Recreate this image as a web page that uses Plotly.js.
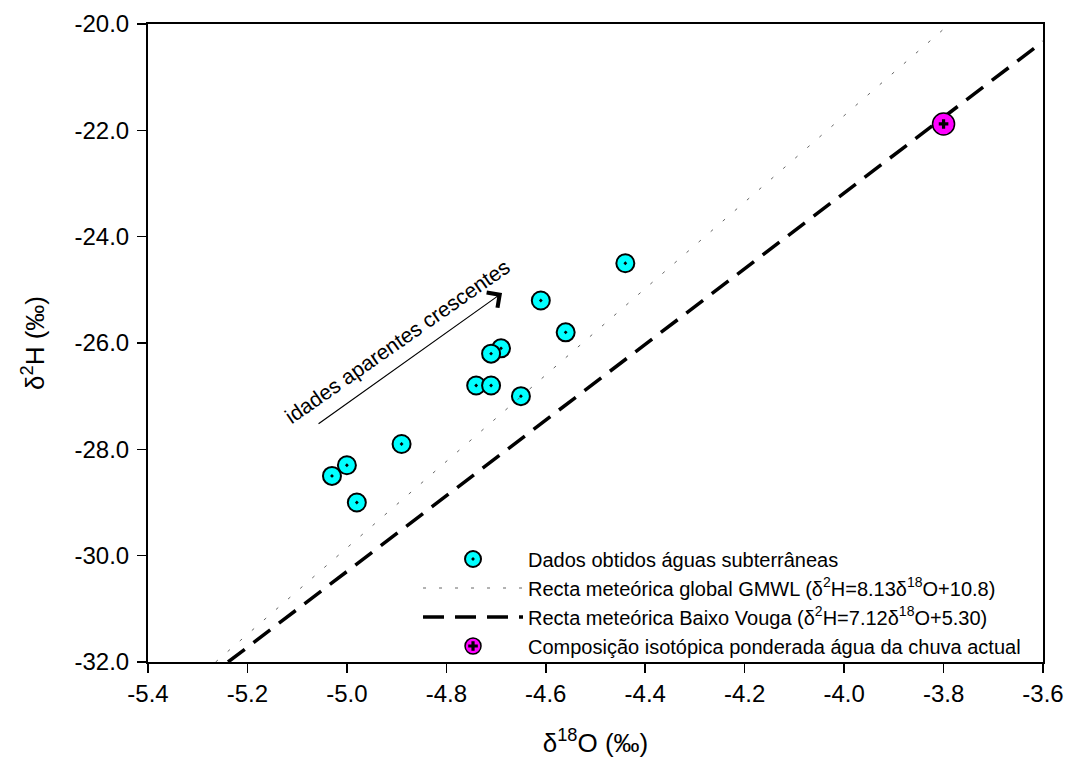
<!DOCTYPE html>
<html>
<head>
<meta charset="utf-8">
<script src="https://cdn.plot.ly/plotly-3.0.1.min.js"></script>
<style>html,body{margin:0;padding:0;background:#fff;}#chart{width:1066px;height:769px;}</style>
</head>
<body>
<div id="chart"></div>
<script>
// Groundwater samples (δ18O, δ2H)
const gwX = [-4.44, -4.61, -4.56, -4.69, -4.71, -4.74, -4.71, -4.65, -4.89, -5.00, -5.03, -4.98];
const gwY = [-24.5, -25.2, -25.8, -26.1, -26.2, -26.8, -26.8, -27.0, -27.9, -28.3, -28.5, -29.0];
// Weighted rain composition
const rainX = [-3.80];
const rainY = [-21.88];
// GMWL segment endpoints (δ2H = 8.13 δ18O + 10.8)
const gmwlX = [-5.264, -3.788];
const gmwlY = [-32.0, -20.0];
// Baixo Vouga line endpoints (δ2H = 7.12 δ18O + 5.30)
const bvX = [-5.239, -3.6];
const bvY = [-32.0, -20.33];
// Axis ticks
const xTicks = [-5.4, -5.2, -5.0, -4.8, -4.6, -4.4, -4.2, -4.0, -3.8, -3.6];
const yTicks = [-32, -30, -28, -26, -24, -22, -20];
// Annotation arrow (tail -> head)
const arrowTail = [-5.06, -27.54];
const arrowHead = [-4.688, -25.06];
const arrowLabelPos = [-4.899, -25.97];

const FONT = 'Arial, "Liberation Sans", sans-serif';

const traces = [
  {
    x: gwX, y: gwY, type: 'scatter', mode: 'markers',
    name: 'Dados obtidos águas subterrâneas',
    marker: {symbol: 'circle-dot', size: 18, color: '#00ffff', line: {color: '#000', width: 2}},
    legend: 'legend'
  },
  {
    x: gmwlX, y: gmwlY, type: 'scatter', mode: 'lines',
    name: 'Recta meteórica global GMWL (δ<sup>2</sup>H=8.13δ<sup>18</sup>O+10.8)',
    line: {color: '#666', width: 1, dash: '3px,13px'},
    legend: 'legend'
  },
  {
    x: bvX, y: bvY, type: 'scatter', mode: 'lines',
    name: 'Recta meteórica Baixo Vouga (δ<sup>2</sup>H=7.12δ<sup>18</sup>O+5.30)',
    line: {color: '#000', width: 3.5, dash: '21px,11px'},
    legend: 'legend'
  },
  {
    x: rainX, y: rainY, type: 'scatter', mode: 'markers',
    name: 'Composição isotópica ponderada água da chuva actual',
    marker: {symbol: 'circle', size: 22, color: '#ff00ff', line: {color: '#000', width: 1.5}},
    legend: 'legend'
  },
  {
    x: rainX, y: rainY, type: 'scatter', mode: 'markers',
    name: ' ',
    marker: {symbol: 'cross', size: 8, color: '#000', line: {width: 0}},
    legend: 'legend2'
  }
];

const legendCommon = {
  font: {family: FONT, size: 20, color: '#000'},
  bgcolor: 'rgba(0,0,0,0)',
  borderwidth: 0,
  itemwidth: 100,
  xanchor: 'left', yanchor: 'top',
  x: 0.3017,
  itemclick: false, itemdoubleclick: false
};

const legendTop = 0.192;

const layout = {
  width: 1066, height: 769,
  margin: {l: 148, r: 23, t: 24, b: 107},
  paper_bgcolor: '#fff', plot_bgcolor: '#fff',
  font: {family: FONT, color: '#000'},
  showlegend: true,
  legend: Object.assign({}, legendCommon, {y: legendTop}),
  legend2: Object.assign({}, legendCommon, {y: legendTop - 3 * 29 / 638}),
  xaxis: {
    range: [-5.4, -3.6], tickvals: xTicks, ticktext: xTicks.map(v => v.toFixed(1)),
    ticks: 'outside', ticklen: 9, tickwidth: 1.5, tickcolor: '#000',
    showline: true, linecolor: '#000', linewidth: 2, mirror: true,
    showgrid: false, zeroline: false,
    tickfont: {family: FONT, size: 24, color: '#000'},
    title: {text: 'δ<sup>18</sup>O (‰)', font: {family: FONT, size: 26, color: '#000'}, standoff: 28}
  },
  yaxis: {
    range: [-32, -20], tickvals: yTicks, ticktext: yTicks.map(v => v.toFixed(1)),
    ticks: 'outside', ticklen: 9, tickwidth: 1.5, tickcolor: '#000',
    showline: true, linecolor: '#000', linewidth: 2, mirror: true,
    showgrid: false, zeroline: false,
    ticklabelstandoff: 3,
    tickfont: {family: FONT, size: 24, color: '#000'},
    title: {text: 'δ<sup>2</sup>H (‰)', font: {family: FONT, size: 26, color: '#000'}, standoff: 22}
  },
  annotations: [
    {
      x: arrowHead[0], y: arrowHead[1], ax: arrowTail[0], ay: arrowTail[1],
      xref: 'x', yref: 'y', axref: 'x', ayref: 'y',
      text: '', showarrow: true, arrowhead: 4, arrowsize: 3, arrowwidth: 1.2, arrowcolor: '#000'
    },
    {
      x: arrowLabelPos[0], y: arrowLabelPos[1], xref: 'x', yref: 'y',
      text: 'idades aparentes crescentes', showarrow: false, textangle: -35,
      font: {family: FONT, size: 21, color: '#000'}
    }
  ]
};

Plotly.newPlot('chart', traces, layout, {displayModeBar: false, staticPlot: true});
</script>
</body>
</html>
